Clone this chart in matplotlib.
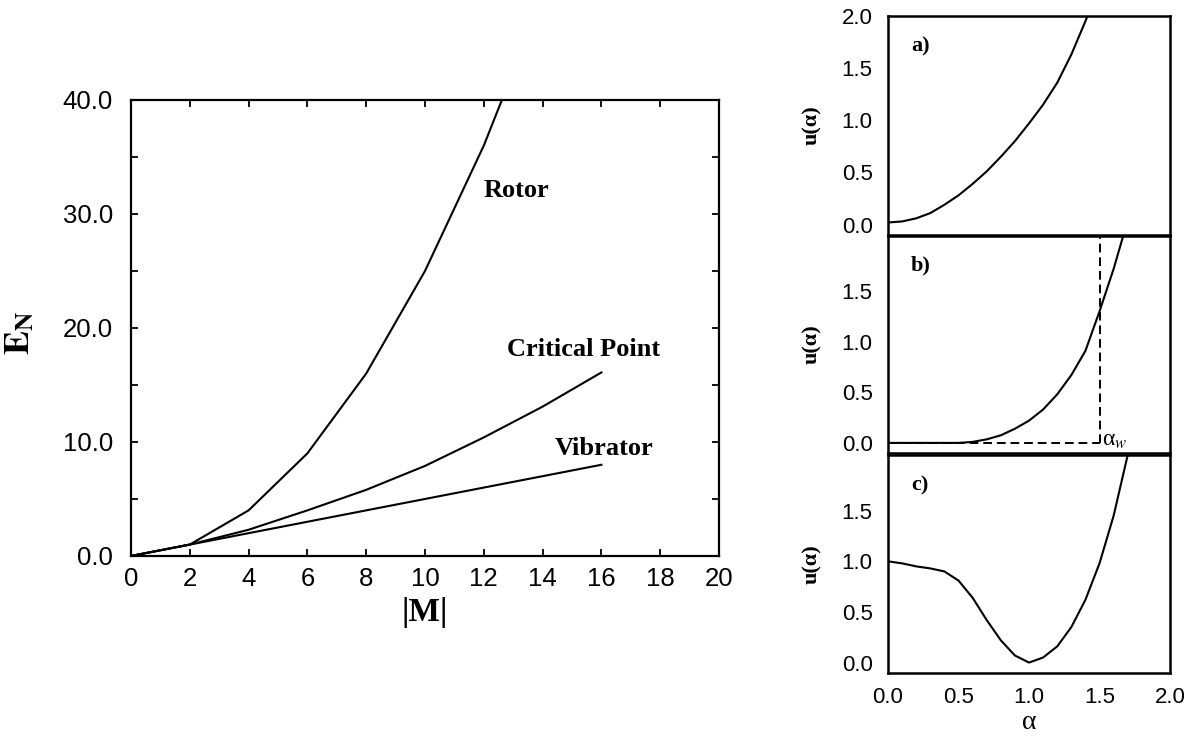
import matplotlib
matplotlib.use("Agg")
import matplotlib.pyplot as plt
from matplotlib.ticker import MultipleLocator, FormatStrFormatter

plt.rcParams['font.family'] = ['Liberation Sans', 'DejaVu Sans']
plt.rcParams['mathtext.fontset'] = 'stix'

# yrast energies vs |M|
m_vals = [0, 2, 4, 6, 8, 10, 12, 14, 16]
rotor = [0, 1, 4, 9, 16, 25, 36, 49]
critical = [0, 1, 2.3, 4.0, 5.8, 7.9, 10.4, 13.1, 16.1]
vibrator = [0, 1, 2, 3, 4, 5, 6, 7, 8]

# potentials u(alpha) for the three cases
alpha_a = [0.0, 0.1, 0.2, 0.3, 0.4, 0.5, 0.6, 0.7, 0.8, 0.9, 1.0, 1.1, 1.2, 1.3, 1.4, 1.5]
u_a = [0.02, 0.03, 0.06, 0.11, 0.19, 0.28, 0.39, 0.51, 0.65, 0.80, 0.97, 1.15, 1.36, 1.63, 1.95, 2.3]

alpha_b = [0.0, 0.1, 0.2, 0.3, 0.4, 0.5, 0.6, 0.7, 0.8, 0.9, 1.0, 1.1, 1.2, 1.3, 1.4, 1.5, 1.6, 1.7]
u_b = [0.0, 0.0, 0.0, 0.0, 0.0, 0.0, 0.01, 0.035, 0.075, 0.14, 0.22, 0.33, 0.48, 0.67, 0.91, 1.3, 1.72, 2.2]
alpha_w = 1.5

alpha_c = [0.0, 0.1, 0.2, 0.3, 0.4, 0.5, 0.6, 0.7, 0.8, 0.9, 1.0, 1.1, 1.2, 1.3, 1.4, 1.5, 1.6, 1.7]
u_c = [1.0, 0.98, 0.95, 0.93, 0.90, 0.81, 0.64, 0.42, 0.22, 0.07, 0.0, 0.05, 0.16, 0.35, 0.62, 0.98, 1.45, 2.05]

serif = 'Liberation Serif'

fig = plt.figure(figsize=(11.95, 7.36), dpi=100)

#### left panel ####
ax = fig.add_axes([0.1096, 0.2446, 0.4921, 0.6196])
ax.plot(m_vals[:len(rotor)], rotor, color='black', lw=1.5)
ax.plot(m_vals, critical, color='black', lw=1.5)
ax.plot(m_vals, vibrator, color='black', lw=1.5)
ax.set_xlim(0, 20)
ax.set_ylim(0, 40)
ax.xaxis.set_major_locator(MultipleLocator(2))
ax.yaxis.set_major_locator(MultipleLocator(10))
ax.yaxis.set_minor_locator(MultipleLocator(5))
ax.yaxis.set_major_formatter(FormatStrFormatter('%.1f'))
ax.tick_params(which='both', direction='in', top=True, right=True,
               length=5, width=1.3, labelsize=18.5)
ax.tick_params(axis='y', pad=13)
ax.tick_params(axis='x', pad=8)
for s in ax.spines.values():
    s.set_linewidth(1.6)

ax.text(13.1, 32.1, 'Rotor', ha='center', va='center', fontsize=19,
        fontweight='bold', family=serif)
ax.text(15.4, 18.1, 'Critical Point', ha='center', va='center', fontsize=19,
        fontweight='bold', family=serif)
ax.text(16.1, 9.4, 'Vibrator', ha='center', va='center', fontsize=19,
        fontweight='bold', family=serif)

ax.set_xlabel('|M|', fontsize=24, fontweight='bold', family=serif)
ax.xaxis.set_label_coords(0.5, -0.09)
ax.set_ylabel(r'$\mathbf{E}_\mathbf{N}$', fontsize=26)
ax.yaxis.set_label_coords(-0.16, 0.489)

#### right panels ####
left, width = 0.7431, 0.236
ax_a = fig.add_axes([left, 0.6807, width, 0.2976])
ax_b = fig.add_axes([left, 0.3845, width, 0.2955])
ax_c = fig.add_axes([left, 0.0860, width, 0.2958])

ax_a.plot(alpha_a, u_a, color='black', lw=1.5)
ax_b.plot(alpha_b, u_b, color='black', lw=1.5)
ax_c.plot(alpha_c, u_c, color='black', lw=1.5)

# alpha_w marker in b)
ax_b.plot([0, alpha_w], [0, 0], color='black', lw=1.4, ls=(0, (4.5, 2.5)))
ax_b.plot([alpha_w, alpha_w], [0, 2.05], color='black', lw=1.4, ls=(0, (4.5, 2.5)))
ax_b.text(alpha_w + 0.02, -0.08, r'α$_{w}$', fontsize=17, family=serif,
          ha='left', va='bottom')

for a, lab in zip([ax_a, ax_b, ax_c], ['a)', 'b)', 'c)']):
    a.set_xlim(0, 2)
    a.tick_params(length=0, labelsize=16)
    a.tick_params(axis='y', pad=11)
    a.tick_params(axis='x', pad=10)
    a.yaxis.set_major_formatter(FormatStrFormatter('%.1f'))
    a.xaxis.set_major_formatter(FormatStrFormatter('%.1f'))
    a.set_xticks([0, 0.5, 1.0, 1.5, 2.0])
    for s in a.spines.values():
        s.set_linewidth(1.8)
    a.text(0.115, 0.86, lab, transform=a.transAxes, ha='center', va='center',
           fontsize=16, fontweight='bold', family=serif)
    a.set_ylabel('u(α)', fontsize=16, fontweight='bold', family=serif)
    a.yaxis.set_label_coords(-0.235, 0.5)

ax_a.set_ylim(-0.1, 2.0)
ax_a.set_yticks([0, 0.5, 1.0, 1.5, 2.0])
ax_b.set_ylim(-0.1, 2.05)
ax_b.set_yticks([0, 0.5, 1.0, 1.5])
ax_c.set_ylim(-0.1, 2.05)
ax_c.set_yticks([0, 0.5, 1.0, 1.5])
ax_a.tick_params(labelbottom=False)
ax_b.tick_params(labelbottom=False)

ax_c.set_xlabel('α', fontsize=20, family=serif)
ax_c.xaxis.set_label_coords(0.5, -0.17)

fig.savefig('out.png', dpi=100)
